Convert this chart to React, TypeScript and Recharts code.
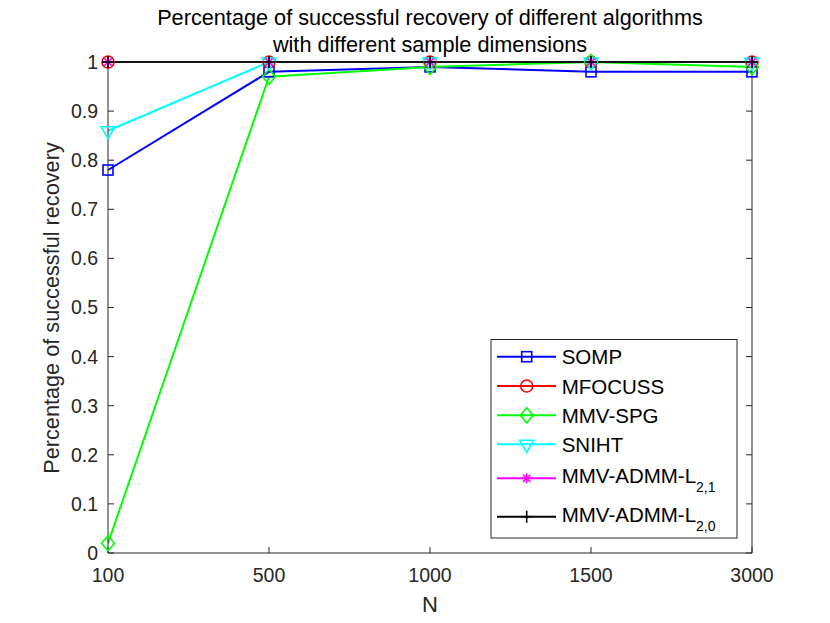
import React from 'react';
import { LineChart, Line, XAxis, YAxis } from 'recharts';

const nLabels = ['100', '500', '1000', '1500', '3000'];
const yTicks = [0, 0.1, 0.2, 0.3, 0.4, 0.5, 0.6, 0.7, 0.8, 0.9, 1];

const somp = [0.78, 0.98, 0.99, 0.98, 0.98];
const mfocuss = [1, 1, 1, 1, 1];
const mmvSpg = [0.02, 0.97, 0.99, 1.0, 0.99];
const sniht = [0.86, 1, 1, 1, 1];
const admmL21 = [1, 1, 1, 1, 1];
const admmL20 = [1, 1, 1, 1, 1];

const seriesList = [
  { key: 'somp', name: 'SOMP', sub: '', color: '#0000ff', marker: 'square', values: somp },
  { key: 'mfocuss', name: 'MFOCUSS', sub: '', color: '#ff0000', marker: 'circle', values: mfocuss },
  { key: 'mmvSpg', name: 'MMV-SPG', sub: '', color: '#00ff00', marker: 'diamond', values: mmvSpg },
  { key: 'sniht', name: 'SNIHT', sub: '', color: '#00ffff', marker: 'triangle', values: sniht },
  { key: 'admmL21', name: 'MMV-ADMM-L', sub: '2,1', color: '#ff00ff', marker: 'asterisk', values: admmL21 },
  { key: 'admmL20', name: 'MMV-ADMM-L', sub: '2,0', color: '#000000', marker: 'plus', values: admmL20 },
];

const data = nLabels.map((n, i) => {
  const row: Record<string, number | string> = { i, n };
  seriesList.forEach((s) => {
    row[s.key] = s.values[i];
  });
  return row;
});

const FONT = '"Liberation Sans", Arial, Helvetica, sans-serif';
const AXIS = '#262626';

function MarkerShape({ shape, color, cx, cy }: { shape: string; color: string; cx: number; cy: number }) {
  const sw = 1.6;
  switch (shape) {
    case 'square':
      return <rect x={cx - 5} y={cy - 5} width={10} height={10} fill="none" stroke={color} strokeWidth={sw} />;
    case 'circle':
      return <circle cx={cx} cy={cy} r={6} fill="none" stroke={color} strokeWidth={sw} />;
    case 'diamond':
      return (
        <polygon
          points={`${cx},${cy - 7.5} ${cx + 6.5},${cy} ${cx},${cy + 7.5} ${cx - 6.5},${cy}`}
          fill="none"
          stroke={color}
          strokeWidth={sw}
        />
      );
    case 'triangle':
      return (
        <polygon
          points={`${cx - 7},${cy - 4} ${cx + 7},${cy - 4} ${cx},${cy + 8}`}
          fill="none"
          stroke={color}
          strokeWidth={sw}
        />
      );
    case 'asterisk':
      return (
        <g stroke={color} strokeWidth={sw}>
          <line x1={cx - 5} y1={cy} x2={cx + 5} y2={cy} />
          <line x1={cx} y1={cy - 5} x2={cx} y2={cy + 5} />
          <line x1={cx - 3.6} y1={cy - 3.6} x2={cx + 3.6} y2={cy + 3.6} />
          <line x1={cx - 3.6} y1={cy + 3.6} x2={cx + 3.6} y2={cy - 3.6} />
        </g>
      );
    case 'plus':
      return (
        <g stroke={color} strokeWidth={sw}>
          <line x1={cx - 6} y1={cy} x2={cx + 6} y2={cy} />
          <line x1={cx} y1={cy - 6} x2={cx} y2={cy + 6} />
        </g>
      );
    default:
      return null;
  }
}

const makeDot = (shape: string, color: string) => (props: any) => {
  const { cx, cy, index } = props;
  if (cx == null || cy == null) return <g key={`d-${index}`} />;
  return (
    <g key={`d-${shape}-${index}`}>
      <MarkerShape shape={shape} color={color} cx={cx} cy={cy} />
    </g>
  );
};

const EmptyTick = () => <g />;

const legendRows = [356.7, 386, 415.3, 444.3, 478.3, 516.7];

function Overlay() {
  return (
    <svg
      width={830}
      height={623}
      style={{ position: 'absolute', left: 0, top: 0, pointerEvents: 'none' }}
      fontFamily={FONT}
    >
      <text x={430} y={25} textAnchor="middle" fontSize={21.7} fill="#000">
        Percentage of successful recovery of different algorithms
      </text>
      <text x={430} y={52} textAnchor="middle" fontSize={21.7} fill="#000">
        with different sample dimensions
      </text>
      <text
        x={58.5}
        y={308}
        textAnchor="middle"
        fontSize={21.7}
        fill={AXIS}
        transform="rotate(-90, 58.5, 308)"
      >
        Percentage of successful recovery
      </text>
      <text x={430} y={611.5} textAnchor="middle" fontSize={22} fill={AXIS}>
        N
      </text>
      <rect x={491} y={339.5} width={246} height={198.5} fill="#ffffff" stroke={AXIS} strokeWidth={1} />
      {seriesList.map((s, k) => {
        const y = legendRows[k];
        return (
          <g key={s.key}>
            <line x1={497} y1={y} x2={556} y2={y} stroke={s.color} strokeWidth={2} />
            <MarkerShape shape={s.marker} color={s.color} cx={526.7} cy={y} />
            {s.sub ? (
              <text x={561.7} y={y + 5} fontSize={20.5} fill="#000">
                {s.name}
                <tspan fontSize={14} dy={9}>
                  {s.sub}
                </tspan>
              </text>
            ) : (
              <text x={561.7} y={y + 7.5} fontSize={20.5} fill="#000">
                {s.name}
              </text>
            )}
          </g>
        );
      })}
    </svg>
  );
}

export default function App() {
  return (
    <div style={{ position: 'absolute', left: 0, top: 0, width: 830, height: 623, background: '#fff' }}>
      <LineChart
        width={830}
        height={623}
        data={data}
        margin={{ top: 62, right: 78, bottom: 40, left: 58 }}
        style={{ fontFamily: FONT }}
      >
        <XAxis
          xAxisId="x"
          dataKey="i"
          type="number"
          domain={[0, 4]}
          ticks={[0, 1, 2, 3, 4]}
          tickFormatter={(v: number) => nLabels[v]}
          tickLine={false}
          tickSize={6}
          tickMargin={9.5}
          height={30}
          axisLine={{ stroke: AXIS, strokeWidth: 1 }}
          tick={{ fill: AXIS, fontSize: 19.5, fontFamily: FONT }}
          interval={0}
        />
        <XAxis
          xAxisId="xIn"
          dataKey="i"
          type="number"
          domain={[0, 4]}
          allowDataOverflow
          ticks={[0, 1, 2, 3, 4]}
          mirror
          orientation="bottom"
          tick={EmptyTick}
          tickLine={{ stroke: AXIS, strokeWidth: 1 }}
          tickSize={6}
          axisLine={false}
          height={10}
          interval={0}
        />
        <XAxis
          xAxisId="xTop"
          dataKey="i"
          type="number"
          domain={[0, 4]}
          allowDataOverflow
          ticks={[0, 1, 2, 3, 4]}
          mirror
          orientation="top"
          tick={EmptyTick}
          tickLine={{ stroke: AXIS, strokeWidth: 1 }}
          tickSize={6}
          axisLine={{ stroke: AXIS, strokeWidth: 1 }}
          height={10}
          interval={0}
        />
        <YAxis
          yAxisId="y"
          type="number"
          domain={[0, 1]}
          ticks={yTicks}
          tickFormatter={(v: number) => (v === 0 ? '0' : v === 1 ? '1' : v.toFixed(1))}
          tickLine={false}
          tickSize={6}
          tickMargin={4}
          width={50}
          axisLine={{ stroke: AXIS, strokeWidth: 1 }}
          tick={{ fill: AXIS, fontSize: 19.5, fontFamily: FONT }}
          interval={0}
        />
        <YAxis
          yAxisId="yIn"
          type="number"
          domain={[0, 1]}
          allowDataOverflow
          ticks={yTicks}
          mirror
          orientation="left"
          tick={EmptyTick}
          tickLine={{ stroke: AXIS, strokeWidth: 1 }}
          tickSize={6}
          axisLine={false}
          width={10}
          interval={0}
        />
        <YAxis
          yAxisId="yRight"
          type="number"
          domain={[0, 1]}
          allowDataOverflow
          ticks={yTicks}
          mirror
          orientation="right"
          tick={EmptyTick}
          tickLine={{ stroke: AXIS, strokeWidth: 1 }}
          tickSize={6}
          axisLine={{ stroke: AXIS, strokeWidth: 1 }}
          width={10}
          interval={0}
        />
        {seriesList.map((s) => (
          <Line
            key={s.key}
            xAxisId="x"
            yAxisId="y"
            type="linear"
            dataKey={s.key}
            name={s.sub ? `${s.name}${s.sub}` : s.name}
            stroke={s.color}
            strokeWidth={2}
            dot={makeDot(s.marker, s.color)}
            activeDot={false}
            isAnimationActive={false}
          />
        ))}
      </LineChart>
      <Overlay />
    </div>
  );
}
